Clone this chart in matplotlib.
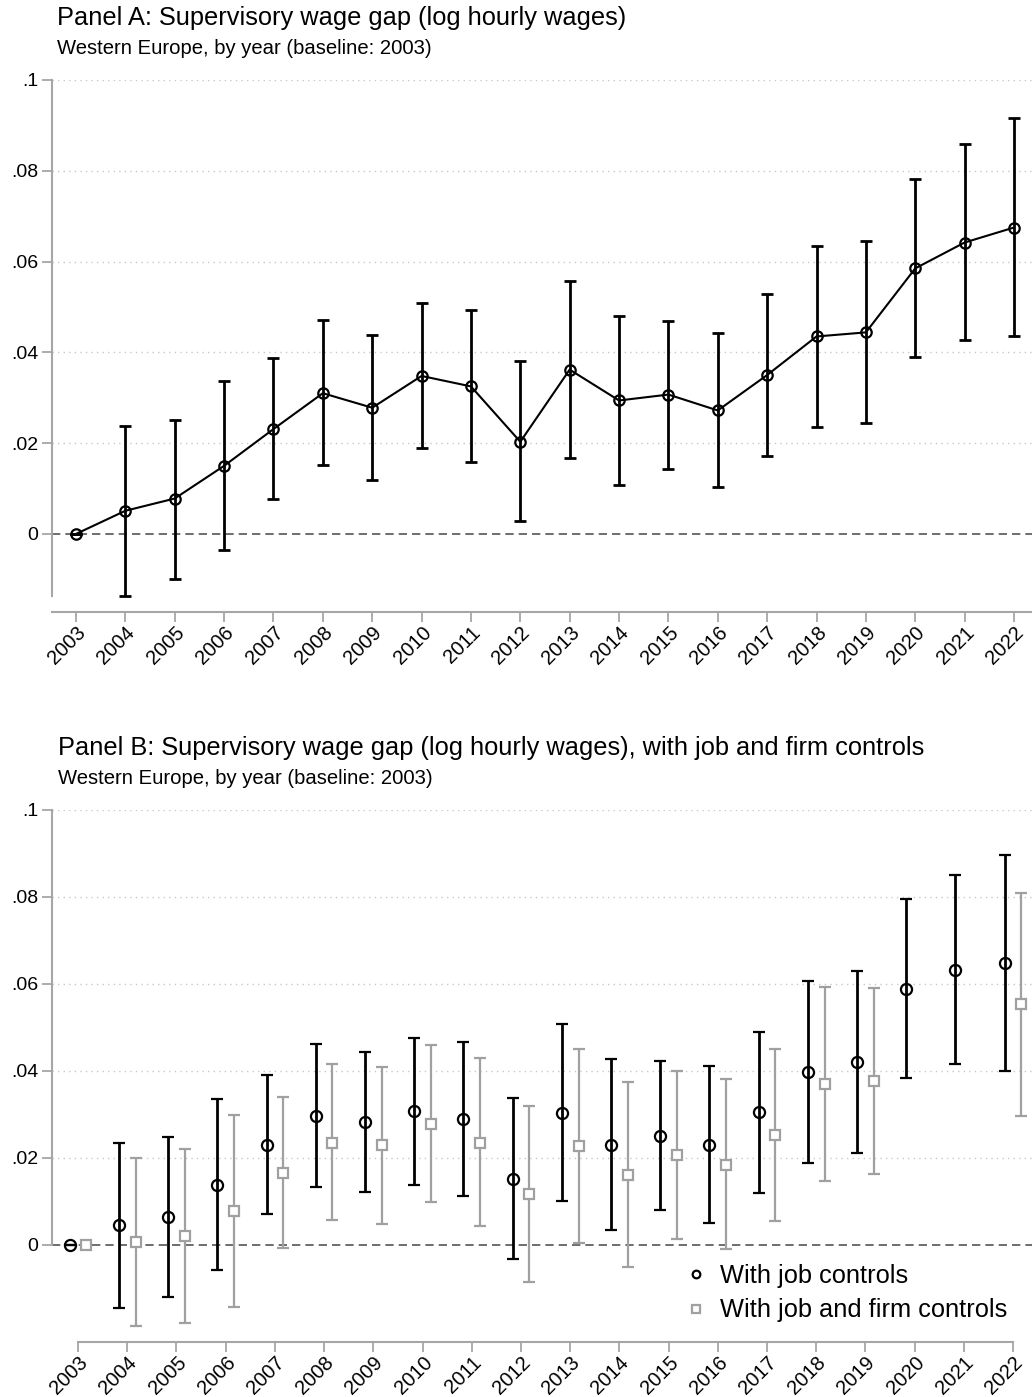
import numpy as np
import matplotlib
matplotlib.use("Agg")
import matplotlib.pyplot as plt
from matplotlib.lines import Line2D

plt.rcParams['font.family'] = ['Liberation Sans', 'DejaVu Sans']

years = list(range(2003, 2023))

# Panel A
a_coef = [0.0, 0.0051, 0.0078, 0.0150, 0.0231, 0.0310, 0.0278, 0.0348, 0.0325, 0.0203,
          0.0362, 0.0294, 0.0307, 0.0272, 0.0350, 0.0435, 0.0444, 0.0585, 0.0642, 0.0675]
a_hi = [0.0, 0.0238, 0.0252, 0.0337, 0.0387, 0.0471, 0.0438, 0.0508, 0.0493, 0.0380,
        0.0557, 0.0479, 0.0470, 0.0443, 0.0529, 0.0634, 0.0645, 0.0781, 0.0858, 0.0916]
a_lo = [0.0, -0.0137, -0.0099, -0.0035, 0.0076, 0.0151, 0.0118, 0.0189, 0.0158, 0.0028,
        0.0167, 0.0108, 0.0144, 0.0104, 0.0171, 0.0236, 0.0244, 0.0389, 0.0427, 0.0435]

# Panel B: with job controls
b1_coef = [0.0, 0.0045, 0.0064, 0.0137, 0.0231, 0.0296, 0.0282, 0.0308, 0.0290, 0.0151,
           0.0303, 0.0231, 0.0251, 0.0231, 0.0305, 0.0397, 0.0421, 0.0589, 0.0633, 0.0648]
b1_hi = [0.0, 0.0235, 0.0249, 0.0335, 0.0391, 0.0461, 0.0443, 0.0477, 0.0466, 0.0337,
         0.0507, 0.0428, 0.0424, 0.0412, 0.0490, 0.0606, 0.0631, 0.0795, 0.0851, 0.0896]
b1_lo = [0.0, -0.0144, -0.0119, -0.0058, 0.0072, 0.0133, 0.0121, 0.0139, 0.0113, -0.0033,
         0.0100, 0.0035, 0.0080, 0.0050, 0.0119, 0.0189, 0.0212, 0.0384, 0.0415, 0.0400]

# Panel B: with job and firm controls (no estimate shown for 2020, 2021)
b2_coef = [0.0, 0.0007, 0.0021, 0.0078, 0.0166, 0.0235, 0.0229, 0.0279, 0.0235, 0.0117,
           0.0228, 0.0162, 0.0206, 0.0184, 0.0253, 0.0369, 0.0376, np.nan, np.nan, 0.0553]
b2_hi = [0.0, 0.0201, 0.0221, 0.0299, 0.0341, 0.0416, 0.0409, 0.0460, 0.0429, 0.0319,
         0.0451, 0.0375, 0.0401, 0.0382, 0.0450, 0.0594, 0.0590, np.nan, np.nan, 0.0810]
b2_lo = [0.0, -0.0187, -0.0179, -0.0142, -0.0007, 0.0058, 0.0049, 0.0098, 0.0044, -0.0085,
         0.0004, -0.0051, 0.0014, -0.0010, 0.0056, 0.0146, 0.0163, np.nan, np.nan, 0.0297]

yticks = [0, 0.02, 0.04, 0.06, 0.08, 0.1]
ytick_labels = ["0", ".02", ".04", ".06", ".08", ".1"]

title_a = "Panel A: Supervisory wage gap (log hourly wages)"
title_b = "Panel B: Supervisory wage gap (log hourly wages), with job and firm controls"
subtitle = "Western Europe, by year (baseline: 2003)"
legend_labels = ["With job controls", "With job and firm controls"]

W, H = 1032, 1397
fig = plt.figure(figsize=(W / 100, H / 100), dpi=100)

AX_COL = "#a6a6a6"
GRAY = "#a0a0a0"


def box(l, t, r, b):
    return [l / W, 1 - b / H, (r - l) / W, (b - t) / H]


def style_axis(ax, ylim, xlim):
    ax.set_ylim(*ylim)
    ax.set_xlim(*xlim)
    ax.set_yticks(yticks)
    ax.set_yticklabels(ytick_labels)
    ax.set_xticks(years)
    ax.set_xticklabels([str(y) for y in years], rotation=45, ha='right', va='top',
                       rotation_mode='anchor')
    for s in ['top', 'right']:
        ax.spines[s].set_visible(False)
    for s in ['left', 'bottom']:
        ax.spines[s].set_color(AX_COL)
        ax.spines[s].set_linewidth(1.5)
    ax.tick_params(axis='both', colors=AX_COL, labelcolor='black', length=7, width=1.3)
    ax.tick_params(axis='y', pad=3, labelsize=14)
    ax.tick_params(axis='x', pad=1, labelsize=14.5)
    for y in yticks[1:]:
        ax.axhline(y, color="#c8c8c8", lw=1.0, ls=(0, (1, 3)), zorder=0)
    ax.axhline(0, color="#555555", lw=1.2, ls=(0, (5, 3)), zorder=1)


# ---------- Panel A ----------
axA = fig.add_axes(box(52, 80, 1032, 612))
style_axis(axA, (-0.0172, 0.1), (2002.514, 2022.365))
axA.spines['left'].set_bounds(min(a_lo), 0.1)
ya = np.array(a_coef)
errA = [ya - np.array(a_lo), np.array(a_hi) - ya]
axA.errorbar(years, a_coef, yerr=errA, fmt='none', ecolor='black', elinewidth=2.0,
             capsize=4, capthick=2.0, zorder=3)
axA.plot(years, a_coef, color='black', lw=1.5, marker='o', markersize=7.5,
         markerfacecolor='none', markeredgecolor='black', markeredgewidth=1.6, zorder=4)

fig.text(57 / W, 1 - 18 / H, title_a, fontsize=18.3, va='center', ha='left')
fig.text(57 / W, 1 - 49 / H, subtitle, fontsize=14.6, va='center', ha='left')

# ---------- Panel B ----------
axB = fig.add_axes(box(52, 810, 1032, 1342))
style_axis(axB, (-0.0223, 0.1), (2002.47, 2022.386))
axB.spines['left'].set_bounds(0, 0.1)
axB.spines['bottom'].set_bounds(years[0], years[-1])
off = 0.17
x1 = np.array(years) - off
x2 = np.array(years) + off
y1 = np.array(b1_coef)
y2 = np.array(b2_coef)
axB.errorbar(x2, y2, yerr=[y2 - np.array(b2_lo), np.array(b2_hi) - y2], fmt='s',
             color=GRAY, ecolor=GRAY, elinewidth=1.6, capsize=4, capthick=1.6,
             markersize=7, markerfacecolor='white', markeredgecolor=GRAY,
             markeredgewidth=1.6, zorder=3)
axB.errorbar(x1, y1, yerr=[y1 - np.array(b1_lo), np.array(b1_hi) - y1], fmt='o',
             color='black', ecolor='black', elinewidth=2.0, capsize=4, capthick=2.0,
             markersize=8, markerfacecolor='none', markeredgecolor='black',
             markeredgewidth=1.6, zorder=4)

handles = [Line2D([], [], ls='none', marker='o', markersize=5.5, markerfacecolor='none',
                  markeredgecolor='black', markeredgewidth=1.6),
           Line2D([], [], ls='none', marker='s', markersize=5.5, markerfacecolor='none',
                  markeredgecolor=GRAY, markeredgewidth=1.6)]
axB.legend(handles, legend_labels, loc='lower right', bbox_to_anchor=(0.99, 0.008),
           frameon=False, fontsize=18.3, handlelength=0.8, handletextpad=0.55,
           labelspacing=0.4, borderaxespad=0.2)

fig.text(58 / W, 1 - 748 / H, title_b, fontsize=18.3, va='center', ha='left')
fig.text(58 / W, 1 - 779 / H, subtitle, fontsize=14.6, va='center', ha='left')

fig.savefig("out.png", dpi=100)
